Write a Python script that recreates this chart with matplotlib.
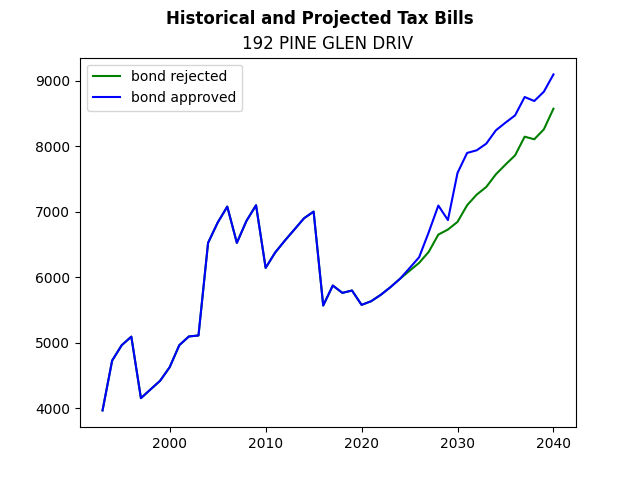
import matplotlib
matplotlib.use("Agg")
import matplotlib.pyplot as plt

years = list(range(1993, 2041))

# shared history up to 2024
history = [3970, 4730, 4965, 5095, 4157, 4290, 4422, 4630, 4965, 5098,
           5113, 6526, 6835, 7079, 6526, 6861, 7100, 6144, 6380, 6560,
           6730, 6901, 7003, 5570, 5875, 5763, 5799, 5580, 5636, 5733,
           5849, 5977]

# 2025 - 2040 projections
rejected_proj = [6100, 6221, 6389, 6652, 6729, 6846, 7100, 7262, 7379, 7572,
                 7720, 7861, 8146, 8106, 8258, 8573]
approved_proj = [6140, 6307, 6688, 7095, 6874, 7593, 7898, 7938, 8040, 8243,
                 8360, 8471, 8751, 8690, 8832, 9096]

bond_rejected = history + rejected_proj
bond_approved = history + approved_proj

fig, ax = plt.subplots(figsize=(6.4, 4.8), dpi=100)
ax.plot(years, bond_rejected, color="green", label="bond rejected")
ax.plot(years, bond_approved, color="blue", label="bond approved")

fig.suptitle("Historical and Projected Tax Bills", fontweight="bold")
ax.set_title("192 PINE GLEN DRIV")
ax.legend(loc="upper left")

fig.savefig("out.png")
